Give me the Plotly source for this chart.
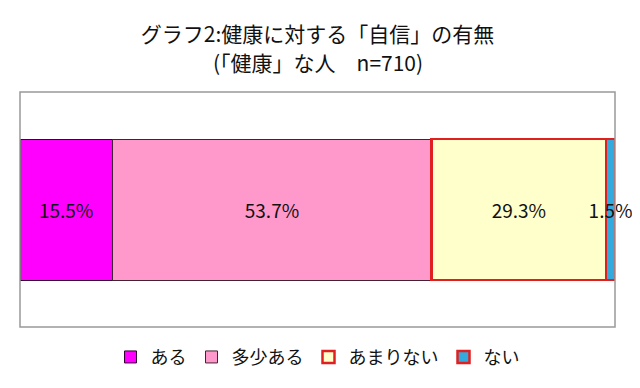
import plotly.graph_objects as go

categories = ["ある", "多少ある", "あまりない", "ない"]
values = [15.5, 53.7, 29.3, 1.5]
fill_colors = ["#FF00FF", "#FF99CC", "#FFFFCC", "#33AADD"]
edge_colors = ["#330033", "#442233", "#E02020", "#E02020"]
edge_widths = [1, 1, 2.5, 2.5]
row = ["n=710"]
title_line1 = "グラフ2:健康に対する「自信」の有無"
title_line2 = "(「健康」な人　n=710)"

FONT = "Noto Sans CJK JP"
NUMFONT = "Liberation Sans Narrow, Noto Sans CJK JP"
H = 388
T, B = 84, 69
PH = H - T - B

fig = go.Figure()
for name, v, fc, ec, ew in zip(categories, values, fill_colors, edge_colors, edge_widths):
    fig.add_trace(go.Bar(
        x=[v], y=row, name=name, orientation="h",
        marker=dict(color=fc, line=dict(color=ec, width=ew)),
        text=[f"{v:.1f}%"], textposition="inside", insidetextanchor="middle",
        textangle=0,
        textfont=dict(family=NUMFONT, size=19, color="#111111"),
        width=0.6, cliponaxis=False,
    ))

fig.update_layout(
    barmode="stack",
    width=640, height=H,
    margin=dict(l=12, r=33, t=T, b=B, autoexpand=False),
    paper_bgcolor="white", plot_bgcolor="white",
    title=dict(
        text=title_line1,
        x=0.5, xanchor="center", xref="paper", yref="container",
        y=1 - 27 / H, yanchor="middle",
        font=dict(family=FONT, size=21, color="#111111"),
    ),
    annotations=[dict(
        text=title_line2, xref="paper", yref="paper", x=0.5, y=(H - B - 54) / PH,
        xanchor="center", yanchor="middle", showarrow=False,
        font=dict(family=FONT, size=21, color="#111111"),
    )],
    xaxis=dict(range=[0, 100], visible=False, fixedrange=True),
    yaxis=dict(range=[-0.5, 0.5], visible=False, fixedrange=True),
    uniformtext=dict(minsize=19, mode="show"),
    showlegend=True,
    legend=dict(
        orientation="h", x=0.5, xanchor="center", y=-0.05, yanchor="top",
        font=dict(family=FONT, size=18, color="#111111"),
        itemwidth=30, tracegroupgap=0, traceorder="normal",
    ),
    shapes=[dict(type="rect", xref="paper", yref="paper", x0=0, x1=1, y0=0, y1=1,
                 line=dict(color="#999999", width=1.5), layer="above")],
)

fig.write_html("out.html")
